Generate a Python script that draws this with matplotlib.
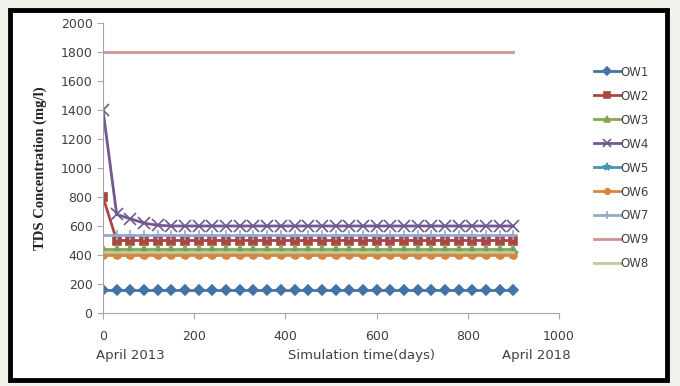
import matplotlib.pyplot as plt
import numpy as np
from matplotlib.patches import Rectangle

# simulation days, a point every 30 days
days = np.arange(0, 901, 30)
n = len(days)

ow1 = [160] * n
ow2 = [800] + [500] * (n - 1)
ow3 = [440] * n
ow4 = [1400, 680, 650, 620, 605] + [600] * (n - 5)
ow5 = [410] * n
ow6 = [400] * n
ow7 = [540] * n
ow9 = [1800] * n
ow8 = [420] * n

series = [
    ('OW1', ow1, '#4572a7', 'D', 5),
    ('OW2', ow2, '#aa4643', 's', 6),
    ('OW3', ow3, '#89a54e', '^', 6),
    ('OW4', ow4, '#71588f', 'x', 8),
    ('OW5', ow5, '#4198af', '*', 7),
    ('OW6', ow6, '#db843d', 'o', 5),
    ('OW7', ow7, '#93a9cf', '+', 7),
    ('OW9', ow9, '#d19392', None, 0),
    ('OW8', ow8, '#b9cd96', None, 0),
]

fig = plt.figure(figsize=(6.8, 3.86), dpi=100)
fig.patch.set_facecolor('#f1f1ec')

# white panel with thick black frame, kept behind the axes
frame = Rectangle((10 / 680, 1 - 380 / 386), 657 / 680, 370 / 386,
                  transform=fig.transFigure, facecolor='white',
                  edgecolor='black', linewidth=3.5, zorder=-10)
fig.add_artist(frame)

ax = fig.add_axes([103 / 680, 1 - 313 / 386, 456 / 680, 290 / 386])
ax.set_facecolor('none')

for name, vals, color, mk, ms in series:
    ax.plot(days, vals, color=color, linewidth=2, marker=mk, markersize=ms,
            markeredgewidth=1.2, label=name)

ax.set_xlim(0, 1000)
ax.set_ylim(0, 2000)
ax.set_xticks(np.arange(0, 1001, 200))
ax.set_yticks(np.arange(0, 2001, 200))

for side in ['top', 'right']:
    ax.spines[side].set_visible(False)
for side in ['left', 'bottom']:
    ax.spines[side].set_color('#a6a6a6')
ax.tick_params(direction='out', length=4, colors='#a6a6a6', labelcolor='#404040',
               labelsize=9)
ax.tick_params(axis='x', pad=8)

ax.set_ylabel('TDS Concentration (mg/l)', family='Liberation Serif',
              fontweight='bold', fontsize=10.5, color='#222222', labelpad=10)

fig.text(130 / 680, 1 - 355 / 386, 'April 2013', fontsize=9.5, color='#404040',
         ha='center', va='center')
fig.text(362 / 680, 1 - 355 / 386, 'Simulation time(days)', fontsize=9.5,
         color='#404040', ha='center', va='center')
fig.text(536 / 680, 1 - 355 / 386, 'April 2018', fontsize=9.5, color='#404040',
         ha='center', va='center')

leg = ax.legend(loc='upper left', bbox_to_anchor=(583 / 680, 1 - 55 / 386),
                bbox_transform=fig.transFigure, frameon=False, fontsize=8.5,
                handlelength=2.2, handletextpad=0.1, labelspacing=0.93,
                markerscale=0.8)
for t in leg.get_texts():
    t.set_color('#404040')

fig.savefig('out.png', dpi=100, facecolor=fig.get_facecolor())
